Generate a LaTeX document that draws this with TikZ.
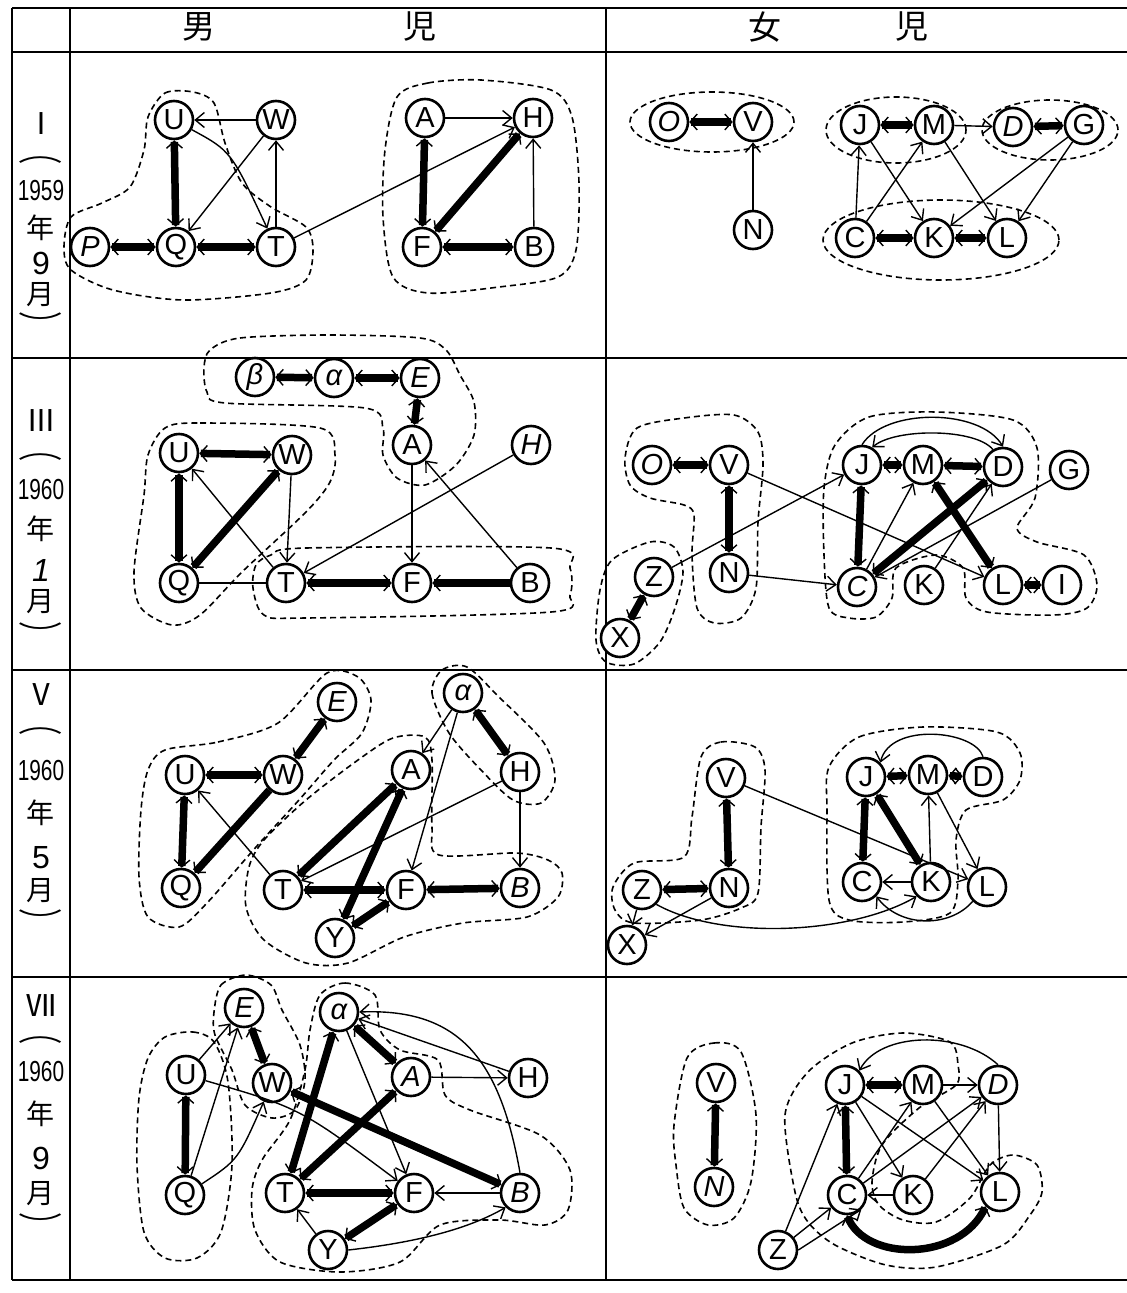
\documentclass[tikz,border=0pt]{standalone}
\usepackage{fontspec}
\setmainfont{Liberation Sans}
\newfontfamily\cjk{Noto Sans CJK JP}
\usetikzlibrary{arrows.meta}
\begin{document}
\begin{tikzpicture}[x=1pt,y=-1pt,
  nd/.style={circle, draw, line width=2.6pt, minimum size=38pt, inner sep=0pt, fill=white, font=\fontsize{29}{29}\selectfont},
  tn/.style={line width=1.4pt},
  tk/.style={line width=7.5pt, >={Straight Barb[line width=1.4pt, length=7pt, width=16pt]}},
  grp/.style={line width=1.6pt, dash pattern=on 6pt off 4pt},
  tbl/.style={line width=2pt},
  lab/.style={font=\cjk\fontsize{28}{28}\selectfont, inner sep=0pt},
  hdr/.style={font=\cjk\fontsize{33}{33}\selectfont, inner sep=0pt},
  rom/.style={font=\cjk\fontsize{30}{30}\selectfont, inner sep=0pt},
  num/.style={font=\fontsize{32}{32}\selectfont, inner sep=0pt},
  yr/.style={font=\fontsize{29}{29}\selectfont, inner sep=0pt},
  par/.style={font=\cjk\fontsize{26}{26}\selectfont, inner sep=0pt},
  >={Straight Barb[line width=1.4pt, length=9pt, width=15pt]},
]
\fill[white] (0,0) rectangle (1127,1293);
\useasboundingbox (0,0) rectangle (1127,1293);
% ---------- table ----------
\draw[tbl] (12,8) -- (1127,8);
\draw[tbl] (12,52) -- (1127,52);
\draw[tbl] (12,358) -- (1127,358);
\draw[tbl] (12,670) -- (1127,670);
\draw[tbl] (12,977) -- (1127,977);
\draw[tbl] (12,1280) -- (1127,1280);
\draw[tbl] (12,8) -- (12,1280);
\draw[tbl] (70,8) -- (70,1280);
\draw[tbl] (606,8) -- (606,1280);
% header
\node[hdr] (h1) at (199,27) {男};
\node[hdr] (h2) at (420,27) {児};
\node[hdr] (h3) at (765,27) {女};
\node[hdr] (h4) at (912,27) {児};
% row labels
\node[rom] (r1a) at (41,124) {Ⅰ};
\node[par] (r1b) at (41,160) {\scalebox{1.7}[1]{︵}};
\node[yr] (r1c) at (41,191) {\scalebox{0.72}[1]{1959}};
\node[lab] (r1d) at (41,228) {年};
\node[num] (r1e) at (41,263) {9};
\node[lab] (r1f) at (41,295) {月};
\node[par] (r1g) at (41,324) {\scalebox{1.7}[1]{︶}};
\node[rom] (r2a) at (41,421) {Ⅲ};
\node[par] (r2b) at (41,457) {\scalebox{1.7}[1]{︵}};
\node[yr] (r2c) at (41,490) {\scalebox{0.72}[1]{1960}};
\node[lab] (r2d) at (41,529) {年};
\node[num] (r2e) at (41,570) {\itshape 1};
\node[lab] (r2f) at (41,602) {月};
\node[par] (r2g) at (41,634) {\scalebox{1.7}[1]{︶}};
\node[rom] (r3a) at (41,695) {Ⅴ};
\node[par] (r3b) at (41,731) {\scalebox{1.7}[1]{︵}};
\node[yr] (r3c) at (41,771) {\scalebox{0.72}[1]{1960}};
\node[lab] (r3d) at (41,813) {年};
\node[num] (r3e) at (41,858) {5};
\node[lab] (r3f) at (41,891) {月};
\node[par] (r3g) at (41,921) {\scalebox{1.7}[1]{︶}};
\node[rom] (r4a) at (41,1006) {Ⅶ};
\node[par] (r4b) at (41,1040) {\scalebox{1.7}[1]{︵}};
\node[yr] (r4c) at (41,1072) {\scalebox{0.72}[1]{1960}};
\node[lab] (r4d) at (41,1114) {年};
\node[num] (r4e) at (41,1158) {9};
\node[lab] (r4f) at (41,1194) {月};
\node[par] (r4g) at (41,1225) {\scalebox{1.7}[1]{︶}};

% ---------- groups ----------
\draw[grp] plot[smooth cycle] coordinates {(148,117) (165,93) (193,92) (214,103) (225,143) (242,183) (271,207) (306,227) (313,250) (306,280) (271,293) (183,300) (113,290) (71,270) (64,247) (71,217) (102,203) (130,187) (144,150)};
\draw[grp] plot[smooth cycle] coordinates {(397,97) (428,83) (481,80) (551,90) (572,117) (579,183) (576,250) (558,277) (499,287) (428,293) (393,277) (383,217) (385,150)};
\draw[grp] (712,122) ellipse [x radius=82pt, y radius=30pt];
\draw[grp] (896,130) ellipse [x radius=70pt, y radius=33pt];
\draw[grp] (1050,130) ellipse [x radius=68pt, y radius=30pt];
\draw[grp] (941,240) ellipse [x radius=118pt, y radius=40pt];
\draw[grp] plot[smooth cycle] coordinates {(210,350) (240,338) (330,335) (420,338) (446,350) (460,375) (474,402) (474,435) (456,465) (425,485) (397,478) (383,455) (383,428) (365,408) (225,403) (207,392) (204,368)};
\draw[grp] plot[smooth cycle] coordinates {(165,428) (200,423) (320,428) (335,455) (330,482) (306,512) (242,572) (200,615) (172,625) (141,608) (134,572) (144,495) (148,455)};
\draw[grp] plot[smooth cycle] coordinates {(271,555) (306,548) (551,548) (570,568) (570,595) (551,612) (306,618) (264,615) (253,588) (256,565)};
\draw[grp] plot[smooth cycle] coordinates {(637,428) (684,418) (734,415) (758,432) (763,465) (758,522) (756,588) (741,618) (714,623) (697,608) (692,555) (694,515) (684,505) (650,498) (630,485) (625,458)};
\draw[grp] plot[smooth cycle] coordinates {(612,560) (650,542) (674,547) (683,572) (675,608) (660,642) (634,664) (606,662) (596,640) (600,590)};
\draw[grp] plot[smooth cycle] coordinates {(835,445) (869,417) (936,412) (1013,420) (1037,448) (1035,498) (1017,528) (1037,542) (1084,555) (1097,585) (1087,608) (1054,615) (987,612) (966,598) (963,568) (936,555) (896,568) (892,598) (876,617) (849,618) (829,608) (824,555) (824,488)};
\draw[grp] plot[smooth cycle] coordinates {(165,750) (218,742) (278,723) (327,673) (358,677) (371,700) (362,733) (334,760) (299,800) (256,847) (207,903) (179,927) (148,917) (139,877) (141,810) (148,770)};
\draw[grp] plot[smooth cycle] coordinates {(442,670) (432,693) (449,733) (481,770) (513,800) (541,803) (555,780) (544,743) (499,697) (467,667)};
\draw[grp] plot[smooth cycle] coordinates {(425,737) (393,738) (358,760) (306,800) (264,840) (249,867) (246,907) (264,940) (306,963) (348,963) (404,937) (463,923) (527,917) (558,897) (562,873) (548,860) (516,853) (439,855) (432,827) (432,760)};
\draw[grp] plot[smooth cycle] coordinates {(701,757) (721,742) (755,747) (765,770) (761,827) (758,893) (741,908) (701,920) (634,923) (615,910) (613,887) (634,863) (684,857) (692,817)};
\draw[grp] plot[smooth cycle] coordinates {(829,767) (859,737) (923,727) (997,732) (1020,753) (1020,780) (1003,800) (966,810) (956,840) (958,880) (950,913) (903,922) (849,920) (829,900) (827,810)};
\draw[grp] plot[smooth cycle] coordinates {(165,1037) (193,1032) (214,1042) (228,1082) (232,1165) (221,1232) (197,1258) (165,1258) (144,1232) (137,1165) (139,1098) (148,1058)};
\draw[grp] plot[smooth cycle] coordinates {(214,1012) (221,985) (246,975) (271,985) (282,1010) (300,1045) (305,1080) (295,1110) (272,1118) (245,1105) (232,1070) (215,1035)};
\draw[grp] plot[smooth cycle] coordinates {(320,995) (345,983) (375,995) (380,1030) (400,1050) (438,1060) (445,1095) (470,1110) (540,1135) (570,1170) (568,1210) (545,1225) (500,1220) (440,1225) (400,1262) (340,1272) (280,1262) (255,1230) (252,1190) (262,1160) (290,1120) (305,1070) (310,1030)};
\draw[grp] plot[smooth cycle] coordinates {(687,1058) (714,1043) (741,1052) (756,1115) (751,1182) (734,1218) (708,1225) (684,1208) (676,1165) (674,1125)};
\draw[grp] plot[smooth cycle] coordinates {(795,1192) (785,1115) (808,1072) (852,1043) (903,1033) (950,1042) (958,1065) (956,1085) (919,1108) (882,1145) (872,1182) (879,1205) (903,1220) (936,1222) (970,1198) (990,1165) (1013,1155) (1037,1165) (1042,1192) (1030,1215) (1003,1245) (936,1267) (886,1265) (835,1245) (808,1222)};

% ---------- panel I male ----------
\node[nd] (aU) at (174,120) {U};
\node[nd] (aW) at (276,120) {W};
\node[nd] (aP) at (90,247) {\itshape P};
\node[nd] (aQ) at (176,247) {Q};
\node[nd] (aT) at (276,247) {T};
\node[nd] (aA) at (425,118) {A};
\node[nd] (aH) at (533,118) {H};
\node[nd] (aF) at (422,247) {F};
\node[nd] (aB) at (534,247) {B};
\draw[tk,<->] (aP) -- (aQ);
\draw[tk,<->] (aQ) -- (aT);
\draw[tk,<->] (aU) -- (aQ);
\draw[tk,<->] (aA) -- (aF);
\draw[tk,<->] (aF) -- (aH);
\draw[tk,<->] (aF) -- (aB);
\draw[tn,->] (aW) -- (aU);
\draw[tn,->] (aW) -- (aQ);
\draw[tn,->] (aU) .. controls (231,151) .. (aT);
\draw[tn,->] (aT) -- (aW);
\draw[tn,->] (aT) -- (aH);
\draw[tn,->] (aA) -- (aH);
\draw[tn,->] (aB) -- (aH);

% ---------- panel I female ----------
\node[nd] (bO) at (669,122) {\itshape O};
\node[nd] (bV) at (753,122) {V};
\node[nd] (bN) at (753,230) {N};
\node[nd] (bJ) at (860,125) {J};
\node[nd] (bM) at (934,125) {M};
\node[nd] (bD) at (1013,127) {\itshape D};
\node[nd] (bG) at (1084,125) {G};
\node[nd] (bC) at (855,238) {C};
\node[nd] (bK) at (934,238) {K};
\node[nd] (bL) at (1007,238) {L};
\draw[tk,<->] (bO) -- (bV);
\draw[tk,<->] (bJ) -- (bM);
\draw[tk,<->] (bD) -- (bG);
\draw[tk,<->] (bC) -- (bK);
\draw[tk,<->] (bK) -- (bL);
\draw[tn,->] (bN) -- (bV);
\draw[tn,->] (bM) -- (bD);
\draw[tn,->] (bC) -- (bJ);
\draw[tn,->] (bJ) -- (bK);
\draw[tn,->] (bC) -- (bM);
\draw[tn,->] (bM) -- (bL);
\draw[tn,->] (bG) -- (bK);
\draw[tn,->] (bG) -- (bL);

% ---------- panel III male ----------
\node[nd] (cbe) at (255,377) {\itshape β};
\node[nd] (cal) at (334,378) {\itshape α};
\node[nd] (cE) at (420,378) {\itshape E};
\node[nd] (cA) at (412,445) {A};
\node[nd] (cH) at (531,445) {\itshape H};
\node[nd] (cU) at (179,453) {U};
\node[nd] (cW) at (292,455) {W};
\node[nd] (cQ) at (179,583) {Q};
\node[nd] (cT) at (286,583) {T};
\node[nd] (cF) at (412,583) {F};
\node[nd] (cB) at (530,583) {B};
\draw[tk,<->] (cal) -- (cbe);
\draw[tk,<->] (cal) -- (cE);
\draw[tk,<->] (cE) -- (cA);
\draw[tk,<->] (cU) -- (cW);
\draw[tk,<->] (cW) -- (cQ);
\draw[tk,<->] (cU) -- (cQ);
\draw[tk,<->] (cT) -- (cF);
\draw[tk,->] (cB) -- (cF);
\draw[tn,->] (cT) -- (cU);
\draw[tn,->] (cW) -- (cT);
\draw[tn,->] (cH) -- (cT);
\draw[tn,->] (cA) -- (cF);
\draw[tn,->] (cB) -- (cA);
\draw[tn] (cQ) -- (cT);

% ---------- panel III female ----------
\node[nd] (dO) at (652,465) {\itshape O};
\node[nd] (dV) at (729,465) {V};
\node[nd] (dZ) at (654,577) {Z};
\node[nd] (dX) at (620,638) {X};
\node[nd] (dN) at (729,573) {N};
\node[nd] (dJ) at (862,465) {J};
\node[nd] (dM) at (923,465) {M};
\node[nd] (dD) at (1003,467) {D};
\node[nd] (dG) at (1069,470) {G};
\node[nd] (dC) at (857,587) {\itshape C};
\node[nd] (dK) at (924,585) {K};
\node[nd] (dL) at (1003,585) {L};
\node[nd] (dI) at (1062,585) {I};
\draw[tk,<->] (dO) -- (dV);
\draw[tk,<->] (dV) -- (dN);
\draw[tk,<->] (dZ) -- (dX);
\draw[tk,<->] (dJ) -- (dC);
\draw[tk,<->] (dJ) -- (dM);
\draw[tk,<->] (dM) -- (dD);
\draw[tk,<->] (dC) -- (dD);
\draw[tk,<->] (dM) -- (dL);
\draw[tk,<->] (dL) -- (dI);
\draw[tn,->] (dZ) -- (dJ);
\draw[tn,->] (dV) -- (dL);
\draw[tn,->] (dN) -- (dC);
\draw[tn,->] (dC) -- (dM);
\draw[tn,->] (dK) -- (dD);
\draw[tn,->] (dG) -- (dC);
\draw[tn,->] (dJ.north) .. controls (885,408) and (980,408) .. (dD.north);
\draw[tn,->] (dD.120) .. controls (975,428) and (895,428) .. (dJ.60);

% ---------- panel V male ----------
\node[nd] (eE) at (337,702) {\itshape E};
\node[nd] (eal) at (463,693) {\itshape α};
\node[nd] (eU) at (185,775) {U};
\node[nd] (eW) at (283,775) {W};
\node[nd] (eA) at (411,770) {A};
\node[nd] (eH) at (520,772) {H};
\node[nd] (eQ) at (181,888) {Q};
\node[nd] (eT) at (283,890) {T};
\node[nd] (eF) at (406,890) {F};
\node[nd] (eB) at (520,888) {\itshape B};
\node[nd] (eY) at (335,938) {Y};
\draw[tk,<->] (eW) -- (eE);
\draw[tk,<->] (eU) -- (eW);
\draw[tk,<->] (eU) -- (eQ);
\draw[tk,<->] (eal) -- (eH);
\draw[tk,<->] (eA) -- (eT);
\draw[tk,<->] (eA) -- (eY);
\draw[tk,<->] (eT) -- (eF);
\draw[tk,<->] (eF) -- (eY);
\draw[tk,<->] (eF) -- (eB);
\draw[tk,->] (eW) -- (eQ);
\draw[tn,->] (eT) -- (eU);
\draw[tn,->] (eal) -- (eA);
\draw[tn,->] (eal) -- (eF);
\draw[tn,->] (eH) -- (eT);
\draw[tn,->] (eH) -- (eB);

% ---------- panel V female ----------
\node[nd] (fV) at (726,778) {V};
\node[nd] (fZ) at (642,890) {Z};
\node[nd] (fN) at (729,888) {N};
\node[nd] (fX) at (627,945) {X};
\node[nd] (fJ) at (866,777) {J};
\node[nd] (fM) at (928,775) {M};
\node[nd] (fD) at (983,777) {D};
\node[nd] (fC) at (862,882) {C};
\node[nd] (fK) at (931,882) {K};
\node[nd] (fL) at (987,887) {L};
\draw[tk,<->] (fV) -- (fN);
\draw[tk,<->] (fZ) -- (fN);
\draw[tk,<->] (fJ) -- (fM);
\draw[tk,<->] (fM) -- (fD);
\draw[tk,<->] (fJ) -- (fC);
\draw[tk,<->] (fJ) -- (fK);
\draw[tn,->] (fZ) -- (fX);
\draw[tn,->] (fN) -- (fX);
\draw[tn,->] (fV) -- (fL);
\draw[tn,->] (fK) -- (fC);
\draw[tn,->] (fK) -- (fM);
\draw[tn,->] (fM) -- (fL);
\draw[tn,->] (fZ.south east) .. controls (720,940) and (850,935) .. (fK.south west);
\draw[tn,->] (fL.south west) .. controls (950,928) and (900,928) .. (fC.south east);
\draw[tn,->] (fD.north) .. controls (975,730) and (890,722) .. (fJ.north east);

% ---------- panel VII male ----------
\node[nd] (gE) at (244,1008) {\itshape E};
\node[nd] (gal) at (339,1012) {\itshape α};
\node[nd] (gU) at (186,1075) {U};
\node[nd] (gW) at (272,1083) {W};
\node[nd] (gA) at (411,1077) {\itshape A};
\node[nd] (gH) at (528,1078) {H};
\node[nd] (gQ) at (185,1195) {Q};
\node[nd] (gT) at (285,1193) {T};
\node[nd] (gF) at (414,1193) {F};
\node[nd] (gB) at (520,1193) {\itshape B};
\node[nd] (gY) at (328,1250) {Y};
\draw[tk,<->] (gE) -- (gW);
\draw[tk,<->] (gU) -- (gQ);
\draw[tk,<->] (gW) -- (gB);
\draw[tk,<->] (gal) -- (gT);
\draw[tk,<->] (gA) -- (gT);
\draw[tk,<->] (gal) -- (gA);
\draw[tk,<->] (gT) -- (gF);
\draw[tk,<->] (gF) -- (gY);
\draw[tn,->] (gU) -- (gE);
\draw[tn,->] (gQ) -- (gE);
\draw[tn,->] (gal) -- (gF);
\draw[tn,->] (gH) -- (gal);
\draw[tn,->] (gA) -- (gH);
\draw[tn,->] (gB) -- (gF);
\draw[tn,->] (gY) -- (gT);
\draw[tn,->] (gQ) .. controls (238,1160) .. (gW);
\draw[tn,->] (gU) .. controls (300,1108) .. (gF);
\draw[tn,->] (gB.north) .. controls (500,1060) and (460,1008) .. (gal.east);
\draw[tn,->] (gY.east) .. controls (420,1242) and (470,1228) .. (gB.south west);

% ---------- panel VII female ----------
\node[nd] (hV) at (716,1083) {V};
\node[nd] (hN) at (714,1187) {\itshape N};
\node[nd] (hJ) at (845,1085) {J};
\node[nd] (hM) at (923,1085) {M};
\node[nd] (hD) at (998,1085) {\itshape D};
\node[nd] (hC) at (847,1195) {C};
\node[nd] (hK) at (913,1195) {K};
\node[nd] (hL) at (1000,1192) {L};
\node[nd] (hZ) at (778,1250) {Z};
\draw[tk,<->] (hV) -- (hN);
\draw[tk,<->] (hJ) -- (hM);
\draw[tk,<->] (hJ) -- (hC);
\draw[tk,<->] (hC.south) .. controls (865,1262) and (960,1262) .. (hL.south west);
\draw[tn,->] (hM) -- (hD);
\draw[tn,->] (hZ) -- (hJ);
\draw[tn,->] (hZ) -- (hC);
\draw[tn,->] (hZ.east) -- (hC.south east);
\draw[tn,->] (hC) -- (hM);
\draw[tn,->] (hC) -- (hD);
\draw[tn,->] (hJ) -- (hK);
\draw[tn,->] (hJ) -- (hL);
\draw[tn,->] (hM) -- (hL);
\draw[tn,->] (hK) -- (hD);
\draw[tn,->] (hK) -- (hC);
\draw[tn,->] (hD) -- (hL);
\draw[tn,->] (hD.north) .. controls (960,1030) and (880,1032) .. (hJ.north east);
\end{tikzpicture}
\end{document}
